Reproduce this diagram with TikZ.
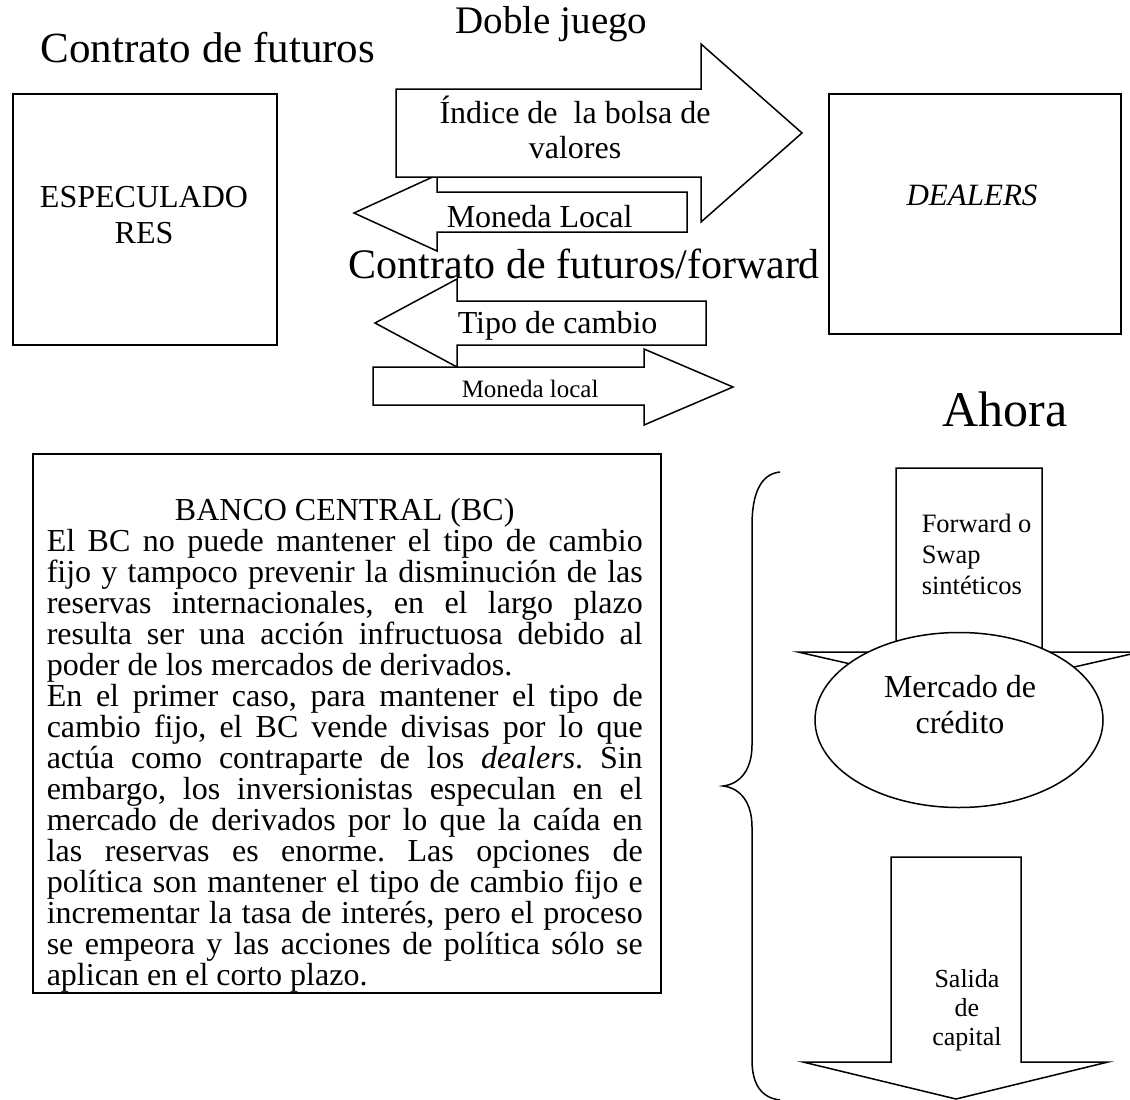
\documentclass[tikz,border=0pt]{standalone}
\usepackage{fontspec}
\setmainfont{Liberation Serif}
\usetikzlibrary{shapes.geometric}
\frenchspacing
\begin{document}
\begin{tikzpicture}[x=1pt,y=-1pt,line width=1.5pt,
  blk/.style={draw=black,fill=white,line join=miter},
  boxnode/.style={draw=black,fill=white,inner sep=0pt,anchor=north west},
  txt/.style={inner sep=0pt,anchor=base},
  txtw/.style={inner sep=0pt,anchor=base west},
  big/.style={font=\fontsize{#1}{#1}\selectfont}]
\useasboundingbox (0,0) rectangle (1130,1100);
\fill[white] (0,0) rectangle (1130,1100);

% titles
\node[txtw,big=39] (doble) at (455,33) {Doble juego};
\node[txtw,big=43] (cfut) at (40,62) {Contrato de futuros};

% boxes
\node[boxnode,minimum width=264,minimum height=251] (espbox) at (12,93) {};
\node[txt,big=32] (esp1) at (144,207) {ESPECULADO};
\node[txt,big=32] (esp2) at (144,243) {RES};
\node[boxnode,minimum width=292,minimum height=240] (dealbox) at (828,93) {};
\node[txt,font=\fontsize{31}{31}\selectfont\itshape] (dealers) at (972,205) {DEALERS};

% upper block arrows
\draw[blk] (354,213) -- (437,175) -- (437,192) -- (687,192) -- (687,232) -- (437,232) -- (437,251) -- cycle;
\draw[blk] (396,89) -- (701,89) -- (701,44) -- (802,133) -- (701,222) -- (701,177) -- (396,177) -- cycle;
\node[txt,big=32] (indice1) at (575,123) {Índice de\ \ la bolsa de};
\node[txt,big=32] (indice2) at (575,158) {valores};
\node[txtw,big=32] (mon1) at (446,227) {Moneda Local};

% lower block arrows
\draw[blk] (375,323) -- (457,279) -- (457,301) -- (706,301) -- (706,345) -- (457,345) -- (457,367) -- cycle;
\draw[blk] (373,367) -- (644,367) -- (644,349) -- (733,387) -- (644,425) -- (644,405) -- (373,405) -- cycle;
\node[txtw,big=42] (cfwd) at (348,278) {Contrato de futuros/forward};
\node[txtw,big=32] (tipo) at (457,333) {Tipo de cambio};
\node[txtw,big=25] (mon2) at (461,397) {Moneda local};

% Ahora
\node[inner sep=0pt,anchor=base east,big=50] (ahora) at (1068,426) {Ahora};

% Banco central box
\node[boxnode,minimum width=628,minimum height=539] (bcbox) at (32,453) {};
\node[txtw] (bctext) at (46,520) {\parbox[t]{596pt}{\fontsize{32}{31}\selectfont
\lineskiplimit=-100pt\parindent=0pt\hyphenpenalty=10000\exhyphenpenalty=10000\tolerance=10000
{\centering BANCO CENTRAL (BC)\par}
El BC no puede mantener el tipo de cambio\linebreak
fijo y tampoco prevenir la disminución de las\linebreak
reservas internacionales, en el largo plazo\linebreak
resulta ser una acción infructuosa debido al\linebreak
poder de los mercados de derivados.\par
En el primer caso, para mantener el tipo de\linebreak
cambio fijo, el BC vende divisas por lo que\linebreak
actúa como contraparte de los \textit{dealers}. Sin\linebreak
embargo, los inversionistas especulan en el\linebreak
mercado de derivados por lo que la caída en\linebreak
las reservas es enorme. Las opciones de\linebreak
política son mantener el tipo de cambio fijo e\linebreak
incrementar la tasa de interés, pero el proceso\linebreak
se empeora y las acciones de política sólo se\linebreak
aplican en el corto plazo.\par}};

% brace
\draw[line width=1.5pt] (780,472) .. controls (760,474) and (752,495) .. (752,525)
  -- (752,745) .. controls (752,770) and (740,784) .. (723,786)
  .. controls (740,788) and (752,802) .. (752,827)
  -- (752,1060) .. controls (752,1085) and (762,1098) .. (780,1100);

% forward arrow and ellipse
\draw[blk] (896,468) -- (1042,468) -- (1042,652) -- (1140,652) -- (969,691) -- (798,652) -- (896,652) -- cycle;
\node[txtw,big=26.5] (fw1) at (921,532) {Forward o};
\node[txtw,big=26.5] (fw2) at (921,563) {Swap};
\node[txtw,big=26.5] (fw3) at (921,594) {sintéticos};
\node[draw=black,fill=white,ellipse,inner sep=0pt,minimum width=288,minimum height=175] (merc) at (959,720) {};
\node[txt,big=32] (merc1) at (960,697) {Mercado de};
\node[txt,big=32] (merc2) at (960,733) {crédito};

% salida arrow
\draw[blk] (891,857) -- (1021,857) -- (1021,1062) -- (1108,1062) -- (956,1099) -- (803,1062) -- (891,1062) -- cycle;
\node[txt,big=26] (sal1) at (967,987) {Salida};
\node[txt,big=26] (sal2) at (967,1016) {de};
\node[txt,big=26] (sal3) at (967,1045) {capital};
\end{tikzpicture}
\end{document}
